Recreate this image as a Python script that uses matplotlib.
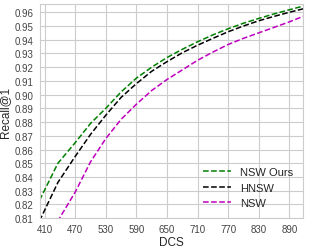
import matplotlib
matplotlib.use('Agg')
import matplotlib.pyplot as plt
import seaborn as sns

sns.set_style('whitegrid')
plt.rcParams['font.family'] = ['Liberation Sans', 'DejaVu Sans']

# DCS values and recall curves
dcs = [400, 436, 470, 500, 530, 560, 590, 620, 650, 680, 710, 740, 770, 800, 830, 860, 890, 917]
nsw_ours = [0.823, 0.850, 0.865, 0.879, 0.890, 0.902, 0.912, 0.920, 0.927, 0.933, 0.9385, 0.9435, 0.948, 0.952, 0.9555, 0.9588, 0.9618, 0.9645]
hnsw = [0.808, 0.836, 0.855, 0.871, 0.885, 0.898, 0.908, 0.917, 0.924, 0.9305, 0.936, 0.941, 0.9458, 0.950, 0.9538, 0.957, 0.960, 0.9625]
nsw = [0.780, 0.808, 0.829, 0.851, 0.868, 0.882, 0.893, 0.903, 0.911, 0.918, 0.925, 0.931, 0.9365, 0.941, 0.945, 0.949, 0.953, 0.957]

xticks = list(range(410, 891, 60))
yticks = [0.81 + 0.01 * i for i in range(16)]

fig = plt.figure(figsize=(3.09, 2.51), dpi=100)
ax = fig.add_axes([0.128, 0.127, 0.853, 0.853])
ax.plot(dcs, nsw_ours, '--', color='green', lw=1.1, label='NSW Ours')
ax.plot(dcs, hnsw, '--', color='black', lw=1.1, label='HNSW')
ax.plot(dcs, nsw, '--', color='m', lw=1.1, label='NSW')
ax.set_xlim(400, 917)
ax.set_ylim(0.81, 0.966)
ax.set_xticks(xticks)
ax.set_yticks(yticks)
ax.set_yticklabels(['%.2f' % y for y in yticks])
ax.tick_params(labelsize=7, pad=1, labelcolor='#444444')
ax.set_xlabel('DCS', fontsize=8.5, labelpad=1)
ax.set_ylabel('Recall@1', fontsize=8.5, labelpad=2)
ax.legend(loc='lower right', fontsize=8, frameon=False, handlelength=2.5,
          bbox_to_anchor=(1.0, 0.0))
fig.savefig('out.png', dpi=100)
